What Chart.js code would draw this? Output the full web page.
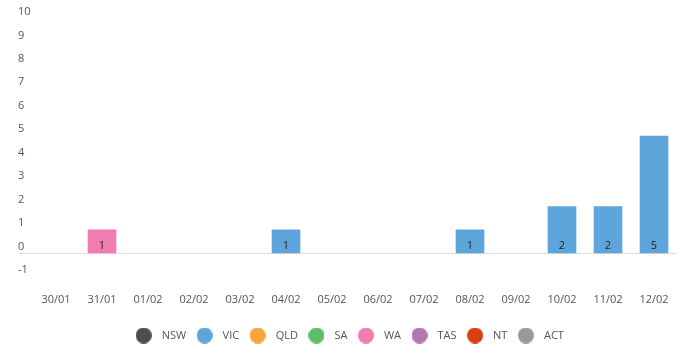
<!DOCTYPE html>
<html>
<head>
<meta charset="utf-8">
<script src="https://cdn.jsdelivr.net/npm/chart.js@4/dist/chart.umd.min.js"></script>
<style>
    body { margin: 0; background: #fff; }
    #wrap { width: 695px; height: 353px; }
</style>
</head>
<body>
<div id="wrap"><canvas id="chart"></canvas></div>
<script>
const dates = ['30/01', '31/01', '01/02', '02/02', '03/02', '04/02', '05/02', '06/02', '07/02', '08/02', '09/02', '10/02', '11/02', '12/02'];
const states = ['NSW', 'VIC', 'QLD', 'SA', 'WA', 'TAS', 'NT', 'ACT'];
const stateColors = ['#4D4D4D', '#5DA5DA', '#FAA43A', '#60BD68', '#F17CB0', '#B276B2', '#D84012', '#999999'];

const nsw = [0, 0, 0, 0, 0, 0, 0, 0, 0, 0, 0, 0, 0, 0];
const vic = [0, 0, 0, 0, 0, 1, 0, 0, 0, 1, 0, 2, 2, 5];
const qld = [0, 0, 0, 0, 0, 0, 0, 0, 0, 0, 0, 0, 0, 0];
const sa = [0, 0, 0, 0, 0, 0, 0, 0, 0, 0, 0, 0, 0, 0];
const wa = [0, 1, 0, 0, 0, 0, 0, 0, 0, 0, 0, 0, 0, 0];
const tas = [0, 0, 0, 0, 0, 0, 0, 0, 0, 0, 0, 0, 0, 0];
const nt = [0, 0, 0, 0, 0, 0, 0, 0, 0, 0, 0, 0, 0, 0];
const act = [0, 0, 0, 0, 0, 0, 0, 0, 0, 0, 0, 0, 0, 0];
const seriesValues = [nsw, vic, qld, sa, wa, tas, nt, act];

const yTicks = [-1, 0, 1, 2, 3, 4, 5, 6, 7, 8, 9, 10];

const font = "'Open Sans', sans-serif";

// round legend markers, drawn as small canvases so the circle stays round
function makeDot(color) {
    const c = document.createElement('canvas');
    c.width = 16;
    c.height = 16;
    const g = c.getContext('2d');
    g.fillStyle = color;
    g.beginPath();
    g.arc(8, 8, 8, 0, Math.PI * 2);
    g.fill();
    return c;
}
const dots = stateColors.map(makeDot);

// value labels inside the bars, near the base
const barLabels = {
    id: 'barLabels',
    afterDatasetsDraw(chart) {
        const ctx = chart.ctx;
        ctx.save();
        ctx.font = '11px ' + font;
        ctx.fillStyle = '#222';
        ctx.textAlign = 'center';
        ctx.textBaseline = 'middle';
        chart.data.datasets.forEach((ds, i) => {
            const meta = chart.getDatasetMeta(i);
            meta.data.forEach((bar, j) => {
                const v = ds.data[j];
                if (!v) return;
                ctx.fillText(String(v), bar.x, bar.base - 7);
            });
        });
        ctx.restore();
    }
};

new Chart(document.getElementById('chart'), {
    type: 'bar',
    data: {
        labels: dates,
        datasets: states.map((s, i) => ({
            label: s,
            // empty days get no bar at all
            data: seriesValues[i].map(v => v === 0 ? null : v),
            backgroundColor: stateColors[i],
            borderWidth: 0
        }))
    },
    options: {
        responsive: true,
        maintainAspectRatio: false,
        animation: false,
        datasets: {
            bar: { barThickness: 28, skipNull: true }
        },
        layout: {
            padding: { left: 18, right: 18, top: 19, bottom: 2 }
        },
        scales: {
            x: {
                stacked: true,
                grid: { display: false },
                border: { display: false },
                afterFit(scale) { scale.height += 10; },
                ticks: {
                    color: '#555',
                    font: { family: font, size: 11 },
                    padding: 8,
                    maxRotation: 0,
                    autoSkip: false
                }
            },
            y: {
                stacked: true,
                min: yTicks[0],
                max: yTicks[yTicks.length - 1],
                afterFit(scale) { scale.width = 15; },
                afterBuildTicks(scale) { scale.ticks = yTicks.map(v => ({ value: v })); },
                border: { display: false },
                grid: {
                    color: c => c.tick && c.tick.value === 0 ? '#dddddd' : 'rgba(0,0,0,0)',
                    tickLength: 14,
                    lineWidth: 1
                },
                ticks: {
                    color: '#555',
                    font: { family: font, size: 11 },
                    crossAlign: 'far',
                    padding: 0,
                    labelOffset: -7
                }
            }
        },
        plugins: {
            tooltip: { enabled: false },
            legend: {
                position: 'bottom',
                labels: {
                    usePointStyle: true,
                    pointStyleWidth: 25,
                    boxHeight: 11,
                    padding: 6,
                    color: '#555',
                    font: { family: font, size: 11 },
                    generateLabels(chart) {
                        const items = Chart.defaults.plugins.legend.labels.generateLabels(chart);
                        items.forEach((it, i) => { it.pointStyle = dots[i]; });
                        return items;
                    }
                }
            }
        }
    },
    plugins: [barLabels]
});
</script>
</body>
</html>
